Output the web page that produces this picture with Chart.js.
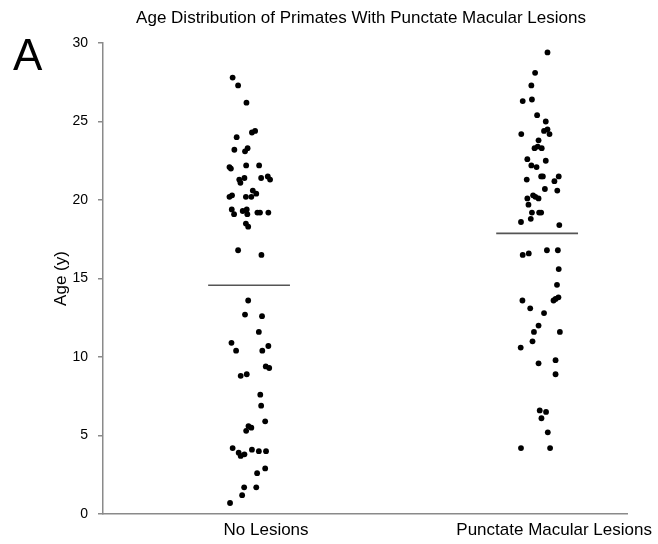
<!DOCTYPE html>
<html>
<head>
<meta charset="utf-8">
<script src="https://cdn.jsdelivr.net/npm/chart.js@4.4.1/dist/chart.umd.min.js"></script>
<style>
  html, body { margin: 0; padding: 0; background: #fff; }
  #wrap { width: 658px; height: 544px; }
</style>
</head>
<body>
<div id="wrap"><canvas id="ageChart"></canvas></div>
<script>
const groups = ['No Lesions', 'Punctate Macular Lesions'];

// jittered x position (group 1 / group 2) and age in years
const noLesionX = [0.943, 0.962, 0.991, 1.010, 1.021, 0.957, 0.949, 0.986, 0.995, 0.932,
    0.937, 0.990, 1.035, 0.966, 0.970, 0.984, 1.042, 1.065, 1.073, 1.013,
    0.932, 0.941, 0.989, 1.008, 1.025, 0.940, 0.948, 0.978, 0.992, 0.994,
    1.029, 1.038, 1.067, 0.989, 0.997, 0.962, 1.043, 0.997, 0.986, 1.045,
    1.034, 0.939, 0.955, 1.046, 1.067, 1.058, 1.070, 0.971, 0.992, 1.039,
    1.042, 1.056, 0.990, 0.998, 1.008, 0.943, 0.964, 0.971, 0.984, 1.010,
    1.034, 1.059, 1.056, 1.028, 0.983, 1.025, 0.976, 0.934];
const noLesionAge = [27.8, 27.3, 26.2, 24.3, 24.4, 24.0, 23.2, 23.1, 23.3, 22.1,
    22.0, 22.2, 22.2, 21.3, 21.1, 21.4, 21.4, 21.5, 21.3, 20.6,
    20.2, 20.3, 20.2, 20.2, 20.4, 19.4, 19.1, 19.3, 19.4, 19.1,
    19.2, 19.2, 19.2, 18.5, 18.3, 16.8, 16.5, 13.6, 12.7, 12.6,
    11.6, 10.9, 10.4, 10.4, 10.7, 9.4, 9.3, 8.8, 8.9, 7.6,
    6.9, 5.9, 5.3, 5.6, 5.5, 4.2, 3.9, 3.7, 3.8, 4.1,
    4.0, 4.0, 2.9, 2.6, 1.7, 1.7, 1.2, 0.7];

const lesionX = [2.036, 1.993, 1.980, 1.950, 1.982, 2.000, 2.030, 2.036, 2.024, 2.043,
    1.945, 2.005, 1.991, 2.002, 2.016, 1.966, 2.030, 1.980, 1.998, 2.014,
    2.020, 1.964, 2.060, 2.075, 2.027, 2.070, 1.986, 1.994, 2.005, 1.966,
    1.970, 1.982, 2.007, 2.014, 1.978, 1.944, 2.077, 1.950, 1.971, 2.034,
    2.072, 2.075, 2.069, 1.949, 2.057, 2.064, 2.074, 1.976, 2.024, 2.005,
    1.989, 2.079, 1.984, 1.943, 2.064, 2.005, 2.064, 2.009, 2.031, 2.015,
    2.037, 1.944, 2.045];
const lesionAge = [29.4, 28.1, 27.3, 26.3, 26.4, 25.4, 25.0, 24.5, 24.4, 24.2,
    24.2, 23.8, 23.3, 23.4, 23.3, 22.6, 22.5, 22.2, 22.1, 21.5,
    21.5, 21.3, 21.2, 21.5, 20.7, 20.6, 20.3, 20.2, 20.1, 20.1,
    19.7, 19.2, 19.2, 19.2, 18.8, 18.6, 18.4, 16.5, 16.6, 16.8,
    16.8, 15.6, 14.6, 13.6, 13.6, 13.7, 13.8, 13.1, 12.8, 12.0,
    11.6, 11.6, 11.0, 10.6, 9.8, 9.6, 8.9, 6.6, 6.5, 6.1,
    5.2, 4.2, 4.2];

const yTicks = [0, 5, 10, 15, 20, 25, 30];

const FONT = '"Liberation Sans", Arial, Helvetica, sans-serif';

function toPoints(xs, ys) {
    return xs.map((x, i) => ({ x: x, y: ys[i] }));
}
function mean(arr) {
    return arr.reduce((a, b) => a + b, 0) / arr.length;
}
function meanLine(center, ages) {
    const m = mean(ages);
    return [{ x: center - 0.142, y: m }, { x: center + 0.142, y: m }];
}

const dotStyle = { backgroundColor: '#000', borderColor: '#000', pointRadius: 2.9, pointBorderWidth: 0 };
const lineStyle = { type: 'line', borderColor: '#555', borderWidth: 1.6, pointRadius: 0, fill: false };

const textPlugin = {
    id: 'figureText',
    afterDraw(chart) {
        const c = chart.ctx;
        const area = chart.chartArea;
        c.save();
        c.fillStyle = '#000';
        c.font = '17px ' + FONT;
        c.textAlign = 'center';
        c.textBaseline = 'middle';
        c.fillText('Age Distribution of Primates With Punctate Macular Lesions', (area.left + area.right) / 2 - 4, 18);
        c.font = '44px ' + FONT;
        c.textAlign = 'left';
        c.textBaseline = 'alphabetic';
        c.fillText('A', 13, 70);
        c.restore();
    }
};

const ctx = document.getElementById('ageChart').getContext('2d');
const ageChart = new Chart(ctx, {
    type: 'scatter',
    data: {
        datasets: [
            Object.assign({ label: groups[0], data: toPoints(noLesionX, noLesionAge) }, dotStyle),
            Object.assign({ label: groups[1], data: toPoints(lesionX, lesionAge) }, dotStyle),
            Object.assign({ label: 'mean 1', data: meanLine(1, noLesionAge) }, lineStyle),
            Object.assign({ label: 'mean 2', data: meanLine(2, lesionAge) }, lineStyle)
        ]
    },
    options: {
        responsive: true,
        maintainAspectRatio: false,
        animation: false,
        layout: { padding: { top: 43, right: 31, left: 0, bottom: 0 } },
        plugins: {
            legend: { display: false },
            tooltip: { enabled: false },
            title: { display: false }
        },
        scales: {
            x: {
                type: 'linear',
                min: 0.493,
                max: 2.312,
                afterBuildTicks(axis) {
                    axis.ticks = [{ value: 1 }, { value: 2 }];
                },
                afterFit(axis) { axis.height = 30; },
                ticks: {
                    autoSkip: false,
                    maxRotation: 0,
                    labelOffset: 17,
                    padding: 6,
                    color: '#000',
                    font: { family: FONT, size: 17 },
                    callback: (v) => groups[v - 1]
                },
                grid: { display: false, drawTicks: false },
                border: { display: true, color: '#8a8a8a', width: 1.5 }
            },
            y: {
                min: 0,
                max: 30,
                afterBuildTicks(axis) {
                    axis.ticks = yTicks.map(v => ({ value: v }));
                },
                afterFit(axis) { axis.width = 103; },
                ticks: {
                    padding: 10,
                    color: '#000',
                    font: { family: FONT, size: 14 }
                },
                grid: { drawOnChartArea: false, drawTicks: true, tickLength: 5, color: '#8a8a8a', lineWidth: 1.5 },
                border: { display: true, color: '#8a8a8a', width: 1.5 },
                title: {
                    display: true,
                    text: 'Age (y)',
                    color: '#000',
                    font: { family: FONT, size: 17 },
                    padding: { top: 51, bottom: 0 }
                }
            }
        }
    },
    plugins: [textPlugin]
});
</script>
</body>
</html>
